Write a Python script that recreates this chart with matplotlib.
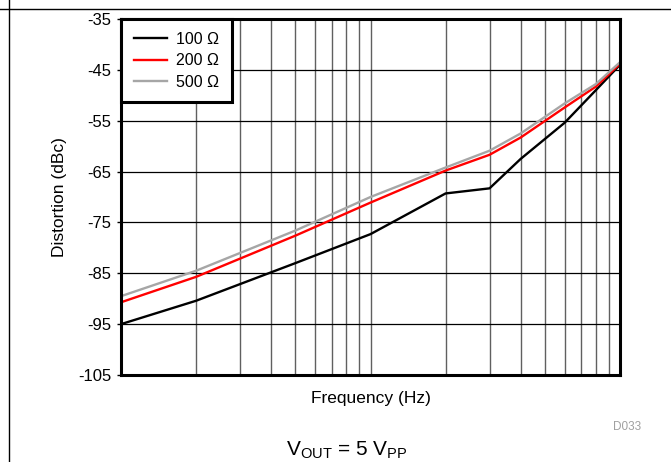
import numpy as np
import matplotlib.pyplot as plt
from matplotlib.lines import Line2D
from matplotlib.ticker import LogLocator, NullFormatter

plt.rcParams['font.family'] = ['Liberation Sans', 'DejaVu Sans']
plt.rcParams['mathtext.fontset'] = 'custom'
plt.rcParams['mathtext.rm'] = 'Liberation Sans'
plt.rcParams['mathtext.it'] = 'Liberation Sans'
plt.rcParams['axes.unicode_minus'] = False

# frequency in Hz (axis spans two decades, no tick labels in the original)
freq = [1e5, 2e5, 5e5, 1e6, 2e6, 3e6, 4e6, 6e6, 8e6, 1e7]
dist_100 = [-95.0, -90.4, -83.0, -77.3, -69.3, -68.3, -62.5, -55.4, -49.0, -44.0]
dist_200 = [-90.7, -85.7, -77.6, -71.1, -64.8, -61.7, -58.3, -52.4, -48.3, -43.8]
dist_500 = [-89.5, -84.5, -76.6, -70.0, -64.2, -60.9, -57.5, -51.6, -47.8, -43.5]
labels = ['100 Ω', '200 Ω', '500 Ω']
colors = ['#000000', '#FF0000', '#A6A6A6']
y_ticks = [-35, -45, -55, -65, -75, -85, -95, -105]

fig = plt.figure(figsize=(6.71, 4.62), dpi=100)
ax = fig.add_axes([121 / 671, 1 - 375 / 462, (620 - 121) / 671, (375 - 19) / 462])

for ys, lab, c in zip([dist_100, dist_200, dist_500], labels, colors):
    ax.plot(freq, ys, color=c, linewidth=1.7, label=lab, zorder=3)

ax.set_xscale('log')
ax.set_xlim(1e5, 1e7)
ax.set_ylim(-105, -35)
ax.set_yticks(y_ticks)
ax.xaxis.set_major_locator(LogLocator(base=10, subs=(1.0,)))
ax.xaxis.set_minor_locator(LogLocator(base=10, subs=np.arange(2, 10)))
ax.xaxis.set_major_formatter(NullFormatter())
ax.xaxis.set_minor_formatter(NullFormatter())
ax.tick_params(axis='x', which='both', length=0)
ax.tick_params(axis='y', length=3, width=1, labelsize=12, pad=4)

ax.grid(True, axis='x', which='both', color='#606060', linewidth=1.0, zorder=1)
ax.grid(True, axis='y', which='major', color='#000000', linewidth=0.9, zorder=1)
for s in ax.spines.values():
    s.set_linewidth(2.2)
    s.set_zorder(4)

ax.set_xlabel('Frequency (Hz)', fontsize=12.5, labelpad=8)
ax.set_ylabel('Distortion (dBc)', fontsize=12.5, labelpad=8)

leg = ax.legend(loc='upper left', fontsize=11.5, frameon=True, fancybox=False,
                borderaxespad=0, handlelength=2.1, handletextpad=0.55,
                labelspacing=0.4, borderpad=0.8)
leg.get_frame().set_edgecolor('black')
leg.get_frame().set_linewidth(2.2)
leg.get_frame().set_alpha(1)
leg.set_zorder(5)

fig.text(627 / 671, 1 - 427 / 462, 'D033', fontsize=8.5, color='#A0A0A0',
         ha='center', va='center')
fig.text(347 / 671, 1 - 450 / 462, r'V$_{\mathrm{OUT}}$ = 5 V$_{\mathrm{PP}}$',
         fontsize=15, ha='center', va='center')

fig.add_artist(Line2D([0, 1], [1 - 9 / 462, 1 - 9 / 462], color='black', linewidth=1.0))
fig.add_artist(Line2D([9 / 671, 9 / 671], [0, 1], color='black', linewidth=1.0))

fig.savefig('out.png', dpi=100)
